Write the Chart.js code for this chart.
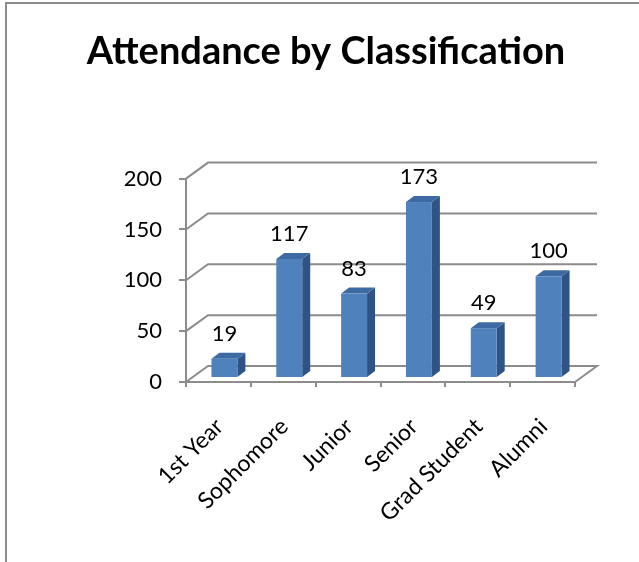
<!DOCTYPE html>
<html>
<head>
<meta charset="utf-8">
<script src="https://cdn.jsdelivr.net/npm/chart.js@4"></script>
<style>
  html, body { margin: 0; padding: 0; background: #fff; }
  #wrap { position: relative; width: 639px; height: 562px; overflow: hidden; }
  #frame { position: absolute; left: 5px; top: 2px; right: -4px; bottom: -4px;
           border-left: 2px solid #8c8c8c; border-top: 2px solid #8c8c8c; }
  canvas { position: absolute; left: 0; top: 0; }
</style>
</head>
<body>
<div id="wrap">
  <div id="frame"></div>
  <canvas id="chart" width="639" height="562"></canvas>
</div>
<script>
// data
const categories = ["1st Year", "Sophomore", "Junior", "Senior", "Grad Student", "Alumni"];
const attendance = [19, 117, 83, 173, 49, 100];
const yTicks = [0, 50, 100, 150, 200];

// 3D look
const WALL_DX = 22, WALL_DY = -16;   // back wall offset
const BAR_DX = 6, BAR_DY = -4;       // bars sit a bit into the floor
const SIDE_DX = 8, SIDE_DY = -6;     // bar depth
const LINE = "#8c8c8c";
const FONT = "Lato";

// back wall + floor
const wallPlugin = {
  id: "wall3d",
  beforeDatasetsDraw(chart) {
    const { ctx, chartArea: a, scales: { y } } = chart;
    ctx.save();
    ctx.strokeStyle = LINE;
    ctx.lineWidth = 2;
    yTicks.forEach(v => {
      const py = y.getPixelForValue(v);
      ctx.beginPath();
      ctx.moveTo(a.left, py);
      ctx.lineTo(a.left + WALL_DX, py + WALL_DY);
      ctx.lineTo(a.right + WALL_DX, py + WALL_DY);
      if (v === 0) ctx.lineTo(a.right, py);
      ctx.stroke();
    });
    ctx.restore();
  }
};

// 3D boxes + value labels
const barPlugin = {
  id: "bars3d",
  afterDatasetsDraw(chart) {
    const { ctx } = chart;
    const meta = chart.getDatasetMeta(0);
    ctx.save();
    meta.data.forEach((bar, i) => {
      const w = bar.width;
      const x0 = bar.x - w / 2 + BAR_DX, x1 = bar.x + w / 2 + BAR_DX;
      const top = bar.y + BAR_DY, base = bar.base + BAR_DY;

      // side
      ctx.fillStyle = "#2e5384";
      ctx.beginPath();
      ctx.moveTo(x1, top);
      ctx.lineTo(x1 + SIDE_DX, top + SIDE_DY);
      ctx.lineTo(x1 + SIDE_DX, base + SIDE_DY);
      ctx.lineTo(x1, base);
      ctx.closePath();
      ctx.fill();

      // top
      ctx.fillStyle = "#3e6aa3";
      ctx.beginPath();
      ctx.moveTo(x0, top);
      ctx.lineTo(x1, top);
      ctx.lineTo(x1 + SIDE_DX, top + SIDE_DY);
      ctx.lineTo(x0 + SIDE_DX, top + SIDE_DY);
      ctx.closePath();
      ctx.fill();

      // front
      ctx.fillStyle = "#4f81bd";
      ctx.fillRect(x0, top, x1 - x0, base - top);

      // value
      ctx.fillStyle = "#000";
      ctx.font = "22px " + FONT;
      ctx.textAlign = "center";
      ctx.textBaseline = "alphabetic";
      ctx.fillText(String(attendance[i]), (x0 + x1) / 2, top - 18);
    });
    ctx.restore();
  }
};

new Chart(document.getElementById("chart"), {
  type: "bar",
  data: {
    labels: categories,
    datasets: [{
      data: attendance,
      backgroundColor: "rgba(0,0,0,0)",
      borderWidth: 0,
      barPercentage: 0.4,
      categoryPercentage: 1
    }]
  },
  options: {
    responsive: false,
    animation: false,
    devicePixelRatio: 1,
    layout: { padding: { top: 0, left: 77, right: 64, bottom: 0 } },
    plugins: {
      legend: { display: false },
      tooltip: { enabled: false },
      title: {
        display: true,
        text: "Attendance by Classification",
        color: "#000",
        font: { family: FONT, size: 38, weight: "bold" },
        padding: { top: 29, bottom: 104 }
      }
    },
    scales: {
      x: {
        grid: { offset: true, drawOnChartArea: false, drawTicks: true, tickLength: 5, color: LINE, lineWidth: 2 },
        border: { display: true, color: LINE, width: 2 },
        ticks: { color: "#000", font: { family: FONT, size: 23 }, maxRotation: 45, minRotation: 45, padding: 26, labelOffset: 1 },
        afterFit(scale) { scale.height = 180; }
      },
      y: {
        min: 0,
        max: 200,
        grid: { drawOnChartArea: false, drawTicks: true, tickLength: 7, color: LINE, lineWidth: 2 },
        border: { display: true, color: LINE, width: 2 },
        ticks: { stepSize: 50, color: "#000", font: { family: FONT, size: 22 }, padding: 17 },
        afterFit(scale) { scale.width = 109; }
      }
    }
  },
  plugins: [wallPlugin, barPlugin]
});
</script>
</body>
</html>
